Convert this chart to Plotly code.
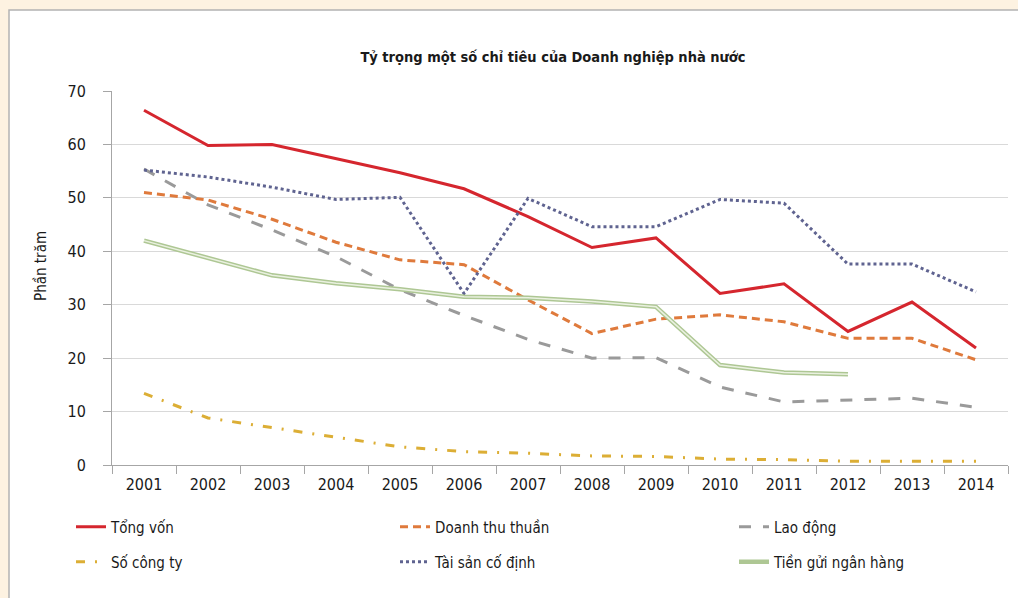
import plotly.graph_objects as go

years = ["2001", "2002", "2003", "2004", "2005", "2006", "2007",
         "2008", "2009", "2010", "2011", "2012", "2013", "2014"]

tong_von = [66.4, 59.8, 60.0, 57.4, 54.7, 51.7, 46.5, 40.7, 42.5, 32.1, 33.9, 25.0, 30.5, 21.9]
doanh_thu = [51.0, 49.6, 46.0, 41.7, 38.4, 37.5, 30.9, 24.6, 27.3, 28.1, 26.8, 23.7, 23.7, 19.7]
lao_dong = [55.4, 48.7, 44.0, 39.0, 32.8, 28.0, 23.5, 20.0, 20.1, 14.6, 11.8, 12.2, 12.5, 10.8]
so_cong_ty = [13.4, 8.8, 7.0, 5.2, 3.4, 2.5, 2.2, 1.7, 1.6, 1.1, 1.0, 0.7, 0.7, 0.7]
tai_san = [55.2, 53.9, 52.0, 49.7, 50.1, 32.1, 49.9, 44.6, 44.6, 49.7, 49.0, 37.6, 37.6, 32.4]
tien_gui = [42.0, 38.8, 35.5, 34.0, 32.9, 31.5, 31.3, 30.6, 29.6, 18.7, 17.3, 17.0]

FONT = "DejaVu Sans Condensed, Liberation Sans Narrow, Roboto, sans-serif"
TXT = "#1a1a1a"

W, H = 1018, 598
L, R, T, B = 112, 10, 91, 133
pw, ph = W - L - R, H - T - B


def px_x(x):
    return (x - L) / pw


def px_y(y):
    return (H - B - y) / ph


fig = go.Figure()

fig.add_trace(go.Scatter(x=years, y=tong_von, name="Tổng vốn", mode="lines",
                         line=dict(color="#d5262e", width=3), legend="legend"))
fig.add_trace(go.Scatter(x=years, y=doanh_thu, name="Doanh thu thuần", mode="lines",
                         line=dict(color="#df7a3c", width=3, dash="8px,5px"), legend="legend2"))
fig.add_trace(go.Scatter(x=years, y=lao_dong, name="Lao động", mode="lines",
                         line=dict(color="#9a9a9a", width=3, dash="12px,12px"), legend="legend3"))
fig.add_trace(go.Scatter(x=years, y=so_cong_ty, name="Số công ty", mode="lines",
                         line=dict(color="#dcae35", width=3, dash="9px,10px,2px,10px"), legend="legend4"))
fig.add_trace(go.Scatter(x=years, y=tai_san, name="Tài sản cố định", mode="lines",
                         line=dict(color="#5f6390", width=3, dash="dot"), legend="legend5"))
fig.add_trace(go.Scatter(x=years[:len(tien_gui)], y=tien_gui, name="Tiền gửi ngân hàng", mode="lines",
                         line=dict(color="#aec794", width=4.5), legend="legend6",
                         legendgroup="tg"))
fig.add_trace(go.Scatter(x=years[:len(tien_gui)], y=tien_gui, name="Tiền gửi ngân hàng", mode="lines",
                         line=dict(color="#eaf1e0", width=1.5), showlegend=False,
                         legendgroup="tg", hoverinfo="skip"))

fig.add_shape(type="rect", xref="paper", yref="paper",
              x0=px_x(9), x1=px_x(1040), y0=px_y(10), y1=px_y(640),
              line=dict(color="#b3b3b3", width=1.5), fillcolor="white", layer="below")

fig.add_annotation(text="Phần trăm", xref="paper", yref="paper",
                   x=px_x(41), y=px_y(266), textangle=-90, showarrow=False,
                   xanchor="center", yanchor="middle",
                   font=dict(family=FONT, size=15, color=TXT))


def leg(xpx, ypx):
    return dict(orientation="h", xref="container", yref="container",
                x=xpx / W, y=1 - ypx / H, xanchor="left", yanchor="middle",
                font=dict(family=FONT, size=15, color=TXT),
                bgcolor="rgba(0,0,0,0)", borderwidth=0)


row1, row2 = 527, 562
colx = [71, 395, 734]

fig.update_layout(
    width=W, height=H,
    margin=dict(l=L, r=R, t=T, b=B, pad=0, autoexpand=False),
    paper_bgcolor="#fdf2e1",
    plot_bgcolor="white",
    font=dict(family=FONT, size=16, color=TXT),
    title=dict(text="<b>Tỷ trọng một số chỉ tiêu của Doanh nghiệp nhà nước</b>",
               xref="container", yref="container",
               x=553 / W, xanchor="center",
               y=1 - 57 / H, yanchor="middle",
               font=dict(family=FONT, size=14.5, color=TXT)),
    xaxis=dict(type="category", range=[-0.5, 13.5], tickson="boundaries",
               ticks="outside", ticklen=8, tickcolor="#a6a6a6",
               showline=True, linecolor="#a6a6a6", linewidth=1,
               showgrid=False, zeroline=False, ticklabelstandoff=5,
               tickfont=dict(family=FONT, size=16, color=TXT)),
    yaxis=dict(range=[0, 70], dtick=10, ticks="outside", ticklen=8,
               tickcolor="#a6a6a6", showline=True, linecolor="#a6a6a6",
               linewidth=1, showgrid=True, gridcolor="#d9d9d9", gridwidth=1,
               zeroline=False, ticklabelstandoff=14,
               tickfont=dict(family=FONT, size=16, color=TXT)),
    legend=leg(colx[0], row1),
    legend2=leg(colx[1], row1),
    legend3=leg(colx[2], row1),
    legend4=leg(colx[0], row2),
    legend5=leg(colx[1], row2),
    legend6=leg(colx[2], row2),
    showlegend=True,
)

fig.write_html("out.html",
               config={"displayModeBar": False},
               post_script="document.body.style.margin='0px';"
                           "document.body.style.overflow='hidden';")
